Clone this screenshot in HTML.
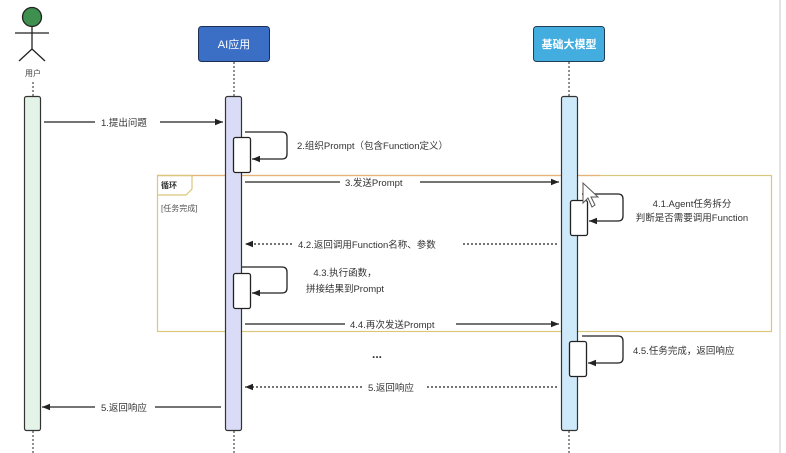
<!DOCTYPE html>
<html><head><meta charset="utf-8"><style>
html,body{margin:0;padding:0;background:#fff;}
svg{display:block;font-family:"Liberation Sans","Noto Sans CJK SC",sans-serif;}
</style></head><body>
<svg width="786" height="453" viewBox="0 0 786 453" xmlns="http://www.w3.org/2000/svg">
<defs>
<marker id="a" viewBox="0 0 10 10" refX="10" refY="5" markerWidth="8" markerHeight="8" orient="auto-start-reverse" markerUnits="userSpaceOnUse"><path d="M0,1 L10,5 L0,9 z" fill="#222"/></marker>
</defs>
<rect x="0" y="0" width="786" height="453" fill="#fff"/>
<line x1="780" y1="0" x2="780" y2="453" stroke="#e4e4e4" stroke-width="2"/>
<circle cx="32" cy="17" r="9.5" fill="#3f8f4e" stroke="#222" stroke-width="1.3"/>
<line x1="32" y1="27" x2="32" y2="49" stroke="#222" stroke-width="1.3"/>
<line x1="15" y1="33" x2="49" y2="33" stroke="#222" stroke-width="1.3"/>
<line x1="32" y1="49" x2="19" y2="61" stroke="#222" stroke-width="1.3"/>
<line x1="32" y1="49" x2="45" y2="61" stroke="#222" stroke-width="1.3"/>
<text x="33" y="76" font-size="8" fill="#444" text-anchor="middle">用户</text>
<rect x="198.5" y="26.5" width="71" height="35" rx="3" fill="#3b6fc6" stroke="#1f2e55"/>
<text x="234" y="48" font-size="11" fill="#fff" text-anchor="middle">AI应用</text>
<rect x="533.5" y="26.5" width="71" height="35" rx="3" fill="#43ade0" stroke="#1f3e55"/>
<text x="569" y="48" font-size="11" fill="#fff" text-anchor="middle" font-weight="bold">基础大模型</text>
<g stroke="#555" stroke-width="1.3" stroke-dasharray="2,2">
<line x1="33" y1="82" x2="33" y2="96"/><line x1="234" y1="62" x2="234" y2="96"/><line x1="569" y1="62" x2="569" y2="96"/>
<line x1="33" y1="431" x2="33" y2="453"/><line x1="234" y1="431" x2="234" y2="453"/><line x1="569" y1="431" x2="569" y2="453"/>
</g>
<rect x="157.5" y="175.5" width="614" height="156" fill="none" stroke="#d9c77a" stroke-width="1.2"/>
<line x1="157" y1="175.5" x2="600" y2="175.5" stroke="#e6b27a" stroke-width="1.2"/>
<path d="M157.5,175.5 H192 V189 L186,195 H157.5" fill="none" stroke="#d9c77a" stroke-width="1.2"/>
<text x="161" y="188" font-size="8" fill="#333" font-weight="bold">循环</text>
<text x="161" y="211" font-size="8" fill="#555">[任务完成]</text>
<rect x="24.5" y="96.5" width="16" height="334" rx="2" fill="#e4f3e8" stroke="#333" stroke-width="1.2"/>
<rect x="225.5" y="96.5" width="16" height="334" rx="2" fill="#d9dbf7" stroke="#333" stroke-width="1.2"/>
<rect x="561.5" y="96.5" width="16" height="334" rx="2" fill="#cde9fa" stroke="#333" stroke-width="1.2"/>
<g fill="none" stroke="#222" stroke-width="1.3">
<rect x="233.5" y="137.5" width="17" height="35" rx="2" fill="#fff"/>
<path d="M245,132 H282 Q287,132 287,137 V154 Q287,159 282,159 H252" marker-end="url(#a)"/>
<rect x="570.5" y="200.5" width="17" height="35" rx="2" fill="#fff"/>
<path d="M582,194 H618 Q623,194 623,199 V216 Q623,221 618,221 H589" marker-end="url(#a)"/>
<rect x="233.5" y="273.5" width="17" height="35" rx="2" fill="#fff"/>
<path d="M242,267 H282 Q287,267 287,272 V288 Q287,293 282,293 H252" marker-end="url(#a)"/>
<rect x="569.5" y="341.5" width="17" height="35" rx="2" fill="#fff"/>
<path d="M582,336 H618 Q623,336 623,341 V358 Q623,363 618,363 H588" marker-end="url(#a)"/>
</g>
<g stroke="#222" stroke-width="1.3" fill="none">
<line x1="44" y1="122" x2="95" y2="122"/><line x1="160" y1="122" x2="223" y2="122" marker-end="url(#a)"/>
<line x1="245" y1="182" x2="340" y2="182"/><line x1="420" y1="182" x2="559" y2="182" marker-end="url(#a)"/>
<line x1="245" y1="324" x2="345" y2="324"/><line x1="456" y1="324" x2="559" y2="324" marker-end="url(#a)"/>
<line x1="221" y1="407" x2="155" y2="407"/>
<line x1="95" y1="407" x2="42" y2="407" marker-end="url(#a)"/>
</g>
<g stroke="#222" stroke-width="1.3" fill="none" stroke-dasharray="2,2">
<line x1="557" y1="244" x2="462" y2="244"/><line x1="292" y1="244" x2="245" y2="244" marker-end="url(#a)"/>
<line x1="557" y1="387" x2="425" y2="387"/><line x1="362" y1="387" x2="245" y2="387" marker-end="url(#a)"/>
</g>
<g font-size="9.5" fill="#333">
<text x="101" y="126">1.提出问题</text>
<text x="297" y="149">2.组织Prompt（包含Function定义）</text>
<text x="345" y="186">3.发送Prompt</text>
<text x="692" y="207" text-anchor="middle">4.1.Agent任务拆分</text>
<text x="692" y="221" text-anchor="middle">判断是否需要调用Function</text>
<text x="298" y="248">4.2.返回调用Function名称、参数</text>
<text x="345" y="276" text-anchor="middle">4.3.执行函数，</text>
<text x="345" y="292" text-anchor="middle">拼接结果到Prompt</text>
<text x="350" y="328">4.4.再次发送Prompt</text>
<text x="633" y="354">4.5.任务完成，返回响应</text>
<text x="368" y="391">5.返回响应</text>
<text x="101" y="411">5.返回响应</text>
<text x="372" y="358" font-size="12" font-weight="bold">...</text>
</g>
<path d="M583,183 L583,203 L588,198 L592,207 L595,205 L591,197 L598,197 Z" fill="#fff" stroke="#555" stroke-width="1"/>
</svg>
</body></html>
